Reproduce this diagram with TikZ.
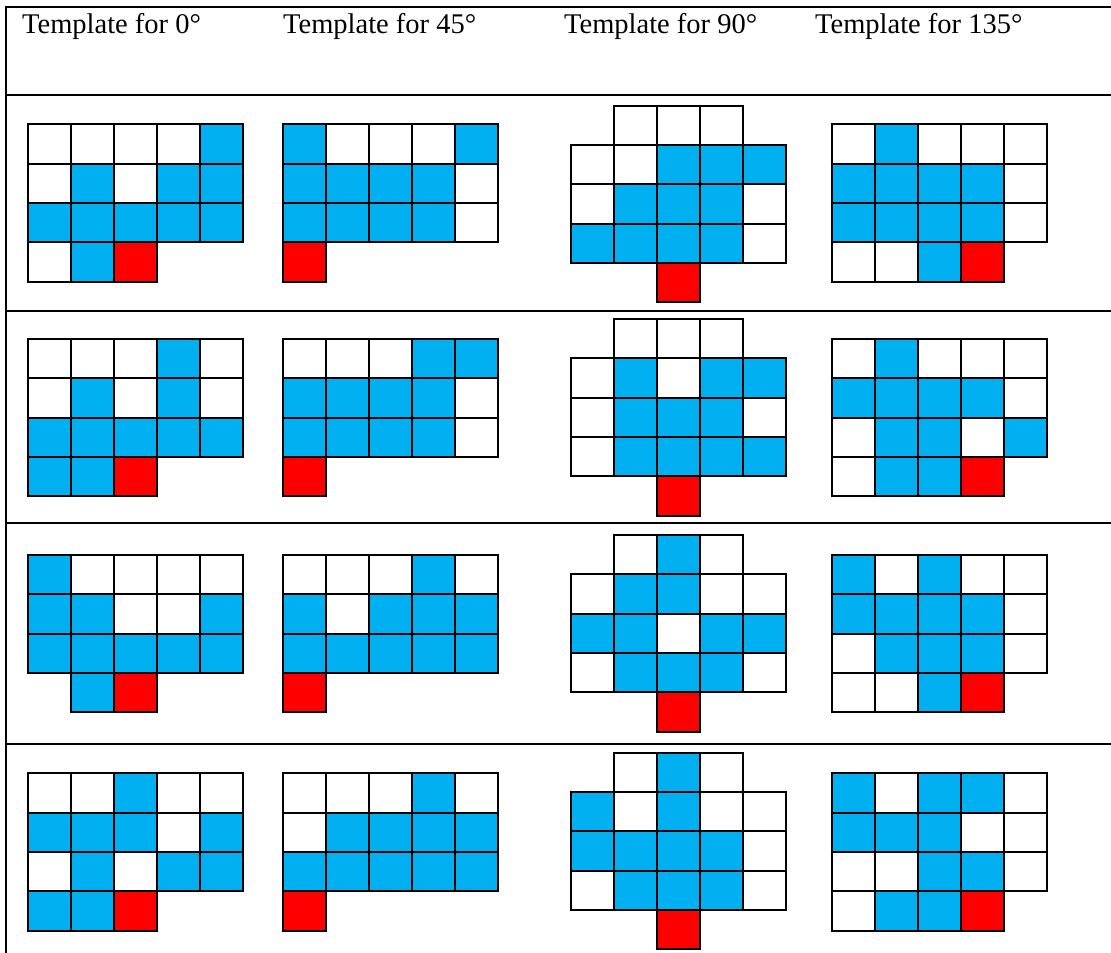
\documentclass[tikz,border=0pt]{standalone}
\usepackage{fontspec}
\setmainfont{Liberation Serif}
\definecolor{cellblue}{HTML}{00B0F0}
\definecolor{cellred}{HTML}{FF0000}
\tikzset{
  cellW/.style={draw=black, fill=white, line width=2pt},
  cellB/.style={draw=black, fill=cellblue, line width=2pt},
  cellR/.style={draw=black, fill=cellred, line width=2pt},
  cellN/.style={},
  rule/.style={draw=black, line width=2pt},
  head/.style={anchor=base west, inner sep=0pt, font=\fontsize{28.5}{34}\selectfont},
}
\newcommand\tmplgrid[3]{%
  \foreach \rowlist [count=\ri] in {#3} {
    \foreach \c [count=\ki] in \rowlist {
      \path[cell\c] ({#1+(\ki-1)*43},{#2+(\ri-1)*39.3}) rectangle ++(43,39.3);
    }
  }%
}
\begin{document}
\begin{tikzpicture}[x=1pt,y=-1pt]
\useasboundingbox (0,0) rectangle (1111,953);
\fill[white] (0,0) rectangle (1111,953);
% table rules
\path[rule] (6,953) -- (6,7) -- (1111,7);
\path[rule] (6,95) -- (1111,95);
\path[rule] (6,311) -- (1111,311);
\path[rule] (6,522.5) -- (1111,522.5);
\path[rule] (6,744) -- (1111,744);
% headers
\node[head] (h0) at (22,33) {Template for 0°};
\node[head] (h45) at (283,33) {Template for 45°};
\node[head] (h90) at (564,33) {Template for 90°};
\node[head] (h135) at (815,33) {Template for 135°};
% row 1
\tmplgrid{28}{124.3}{{W,W,W,W,B},{W,B,W,B,B},{B,B,B,B,B},{W,B,R}}
\tmplgrid{283.3}{124.3}{{B,W,W,W,B},{B,B,B,B,W},{B,B,B,B,W},{R}}
\tmplgrid{570.7}{105.7}{{N,W,W,W,N},{W,W,B,B,B},{W,B,B,B,W},{B,B,B,B,W},{N,N,R}}
\tmplgrid{831.7}{124.3}{{W,B,W,W,W},{B,B,B,B,W},{B,B,B,B,W},{W,W,B,R}}
% row 2
\tmplgrid{28}{339}{{W,W,W,B,W},{W,B,W,B,W},{B,B,B,B,B},{B,B,R}}
\tmplgrid{283.3}{339}{{W,W,W,B,B},{B,B,B,B,W},{B,B,B,B,W},{R}}
\tmplgrid{570.7}{319}{{N,W,W,W,N},{W,B,W,B,B},{W,B,B,B,W},{W,B,B,B,B},{N,N,R}}
\tmplgrid{831.7}{339}{{W,B,W,W,W},{B,B,B,B,W},{W,B,B,W,B},{W,B,B,R}}
% row 3
\tmplgrid{28}{555}{{B,W,W,W,W},{B,B,W,W,B},{B,B,B,B,B},{N,B,R}}
\tmplgrid{283.3}{555}{{W,W,W,B,W},{B,W,B,B,B},{B,B,B,B,B},{R}}
\tmplgrid{570.7}{535}{{N,W,B,W,N},{W,B,B,W,W},{B,B,W,B,B},{W,B,B,B,W},{N,N,R}}
\tmplgrid{831.7}{555}{{B,W,B,W,W},{B,B,B,B,W},{W,B,B,B,W},{W,W,B,R}}
% row 4
\tmplgrid{28}{773.3}{{W,W,B,W,W},{B,B,B,W,B},{W,B,W,B,B},{B,B,R}}
\tmplgrid{283.3}{773.3}{{W,W,W,B,W},{W,B,B,B,B},{B,B,B,B,B},{R}}
\tmplgrid{570.7}{752.7}{{N,W,B,W,N},{B,W,B,W,W},{B,B,B,B,W},{W,B,B,B,W},{N,N,R}}
\tmplgrid{831.7}{773.3}{{B,W,B,B,W},{B,B,B,W,W},{W,W,B,B,W},{W,B,B,R}}
\end{tikzpicture}
\end{document}
